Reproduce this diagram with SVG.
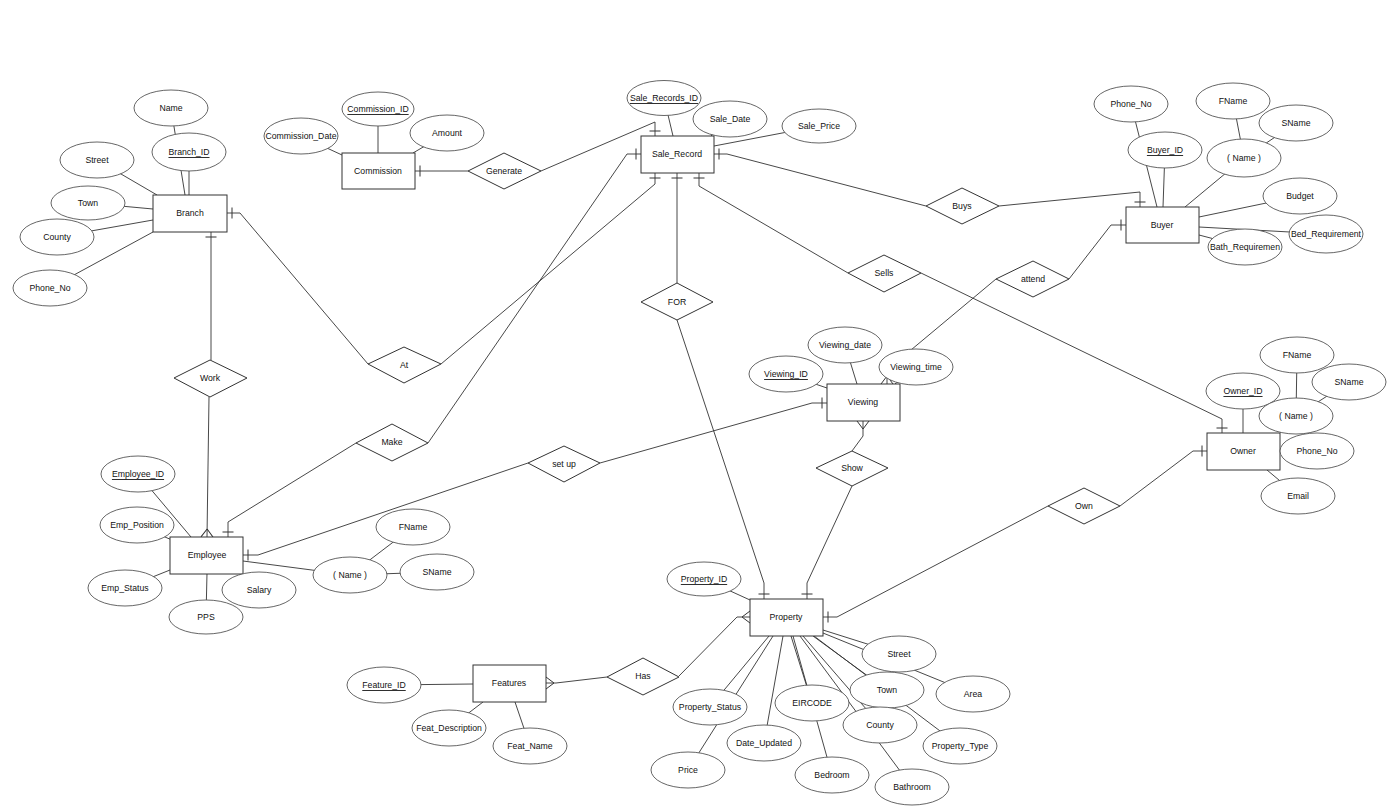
<svg xmlns="http://www.w3.org/2000/svg" width="1393" height="811" viewBox="0 0 1393 811">
<style>
.e{fill:#fff;stroke:#333;stroke-width:1}
.a{fill:#fff;stroke:#555;stroke-width:0.9}
.r{fill:#fff;stroke:#333;stroke-width:1}
.c{fill:none;stroke:#333;stroke-width:0.9}
.l{fill:none;stroke:#333;stroke-width:0.9}
text{font-family:"Liberation Sans",Arial,Helvetica,sans-serif;font-size:8.7px;fill:#111;text-anchor:middle;dominant-baseline:central}
.u{text-decoration:underline}
</style>
<defs>
<marker id="one" markerUnits="userSpaceOnUse" markerWidth="12" markerHeight="14" viewBox="0 -7 12 14" refX="12" refY="0" orient="auto"><path d="M7,-5.5 L7,5.5" stroke="#333" stroke-width="1" fill="none"/></marker>
<marker id="many" markerUnits="userSpaceOnUse" markerWidth="12" markerHeight="14" viewBox="0 -7 12 14" refX="12" refY="0" orient="auto"><path d="M4,0 L12,-6 M4,0 L12,6" stroke="#333" stroke-width="1" fill="none"/></marker>
</defs>
<rect x="0" y="0" width="1393" height="811" fill="#fff"/>
<g id="connectors">
<path class="c" d="M368,364 L240,213 L227,213" marker-end="url(#one)"/>
<path class="c" d="M211,360 L211,232" marker-end="url(#one)"/>
<path class="c" d="M209,397 L207,537" marker-end="url(#many)"/>
<path class="c" d="M441,364 L655,184 L655,173" marker-end="url(#one)"/>
<path class="c" d="M428,443 L627,154 L641,154" marker-end="url(#one)"/>
<path class="c" d="M356,443 L228,522 L228,537" marker-end="url(#one)"/>
<path class="c" d="M528,463 L258,555 L243,555" marker-end="url(#one)"/>
<path class="c" d="M600,463 L812,403 L827,403" marker-end="url(#one)"/>
<path class="c" d="M468,171 L415,171" marker-end="url(#one)"/>
<path class="c" d="M541,171 L655,122 L655,136" marker-end="url(#one)"/>
<path class="c" d="M677,283 L677,173" marker-end="url(#one)"/>
<path class="c" d="M677,320 L764,583 L764,599" marker-end="url(#one)"/>
<path class="c" d="M926,206 L727,154 L714,154" marker-end="url(#one)"/>
<path class="c" d="M999,206 L1140,192 L1140,207" marker-end="url(#one)"/>
<path class="c" d="M848,273 L699,186 L699,173" marker-end="url(#one)"/>
<path class="c" d="M921,273 L1222,419 L1222,433" marker-end="url(#one)"/>
<path class="c" d="M1069,279 L1111,225 L1126,225" marker-end="url(#one)"/>
<path class="c" d="M996,279 L887,370 L887,384" marker-end="url(#many)"/>
<path class="c" d="M852,451 L863,436 L863,421" marker-end="url(#many)"/>
<path class="c" d="M852,486 L807,583 L807,599" marker-end="url(#one)"/>
<path class="c" d="M1120,506 L1193,451 L1207,451" marker-end="url(#one)"/>
<path class="c" d="M1048,506 L837,617 L823,617" marker-end="url(#one)"/>
<path class="c" d="M679,676 L737,617 L750,617" marker-end="url(#many)"/>
<path class="c" d="M607,677 L556,683 L546,683" marker-end="url(#many)"/>
<!-- attribute links -->
<path class="l" d="M171,108 L185,195 M189,152 L189,195 M97,160 L157,195 M88,203 L153,209 M57,237 L153,220 M50,288 L153,232"/>
<path class="l" d="M378,109 L378,153 M301,136 L342,155 M447,133 L413,153"/>
<path class="l" d="M664,98 L673,136 M730,119 L711,136 M819,126 L714,146"/>
<path class="l" d="M1131,104 L1157,207 M1165,150 L1163,207 M1244,158 L1185,207 M1233,101 L1244,158 M1296,123 L1244,158 M1300,196 L1199,217 M1326,234 L1199,227 M1245,247 L1199,235"/>
<path class="l" d="M1243,391 L1243,433 M1296,416 L1280,433 M1297,355 L1296,416 M1349,382 L1296,416 M1317,451 L1280,451 M1298,496 L1267,470"/>
<path class="l" d="M786,374 L827,388 M845,345 L857,384 M916,367 L895,384"/>
<path class="l" d="M138,474 L191,537 M137,525 L172,540 M125,588 L170,570 M206,617 L207,573 M259,590 L238,573 M350,575 L243,561 M413,527 L350,575 M437,572 L350,575"/>
<path class="l" d="M704,579 L750,600 M899,654 L823,630 M973,694 L823,633 M887,690 L813,636 M960,746 L814,636 M880,725 L803,636 M912,787 L800,636 M812,703 L791,636 M832,775 L793,636 M764,743 L783,636 M710,707 L769,636 M688,770 L773,636"/>
<path class="l" d="M384,685 L473,684 M449,728 L483,702 M530,746 L515,702"/>
</g>
<g id="Branch"><rect class="e" x="153" y="195" width="74" height="37"/><text x="190" y="213">Branch</text></g>
<g id="Branch_Name"><ellipse class="a" cx="171" cy="108" rx="37" ry="18"/><text x="171" y="108">Name</text></g>
<g id="Branch_ID"><ellipse class="a" cx="189" cy="152" rx="37" ry="19"/><text class="u" x="189" y="152">Branch_ID</text></g>
<g id="Branch_Street"><ellipse class="a" cx="97" cy="160" rx="37" ry="18"/><text x="97" y="160">Street</text></g>
<g id="Branch_Town"><ellipse class="a" cx="88" cy="203" rx="37" ry="17"/><text x="88" y="203">Town</text></g>
<g id="Branch_County"><ellipse class="a" cx="57" cy="237" rx="37" ry="18"/><text x="57" y="237">County</text></g>
<g id="Branch_Phone"><ellipse class="a" cx="50" cy="288" rx="37" ry="18"/><text x="50" y="288">Phone_No</text></g>

<g id="Commission"><rect class="e" x="342" y="153" width="73" height="36"/><text x="378" y="171">Commission</text></g>
<g id="Commission_ID"><ellipse class="a" cx="378" cy="109" rx="36" ry="17"/><text class="u" x="378" y="109">Commission_ID</text></g>
<g id="Commission_Date"><ellipse class="a" cx="301" cy="136" rx="37" ry="18"/><text x="301" y="136">Commission_Date</text></g>
<g id="Amount"><ellipse class="a" cx="447" cy="133" rx="37" ry="18"/><text x="447" y="133">Amount</text></g>
<g id="Generate"><polygon class="r" points="468,171 504,153 541,171 504,189"/><text x="504" y="171">Generate</text></g>

<g id="Sale_Record"><rect class="e" x="641" y="136" width="73" height="37"/><text x="677" y="154">Sale_Record</text></g>
<g id="Sale_Records_ID"><ellipse class="a" cx="664" cy="98" rx="37" ry="17.5"/><text class="u" x="664" y="98">Sale_Records_ID</text></g>
<g id="Sale_Date"><ellipse class="a" cx="730" cy="119" rx="37" ry="18"/><text x="730" y="119">Sale_Date</text></g>
<g id="Sale_Price"><ellipse class="a" cx="819" cy="126" rx="37" ry="17"/><text x="819" y="126">Sale_Price</text></g>

<g id="Buyer"><rect class="e" x="1126" y="207" width="73" height="36"/><text x="1162" y="225">Buyer</text></g>
<g id="Buyer_Phone"><ellipse class="a" cx="1131" cy="104" rx="37" ry="18"/><text x="1131" y="104">Phone_No</text></g>
<g id="Buyer_ID"><ellipse class="a" cx="1165" cy="150" rx="37" ry="18"/><text class="u" x="1165" y="150">Buyer_ID</text></g>
<g id="Buyer_FName"><ellipse class="a" cx="1233" cy="101" rx="37" ry="18"/><text x="1233" y="101">FName</text></g>
<g id="Buyer_SName"><ellipse class="a" cx="1296" cy="123" rx="37" ry="18"/><text x="1296" y="123">SName</text></g>
<g id="Buyer_Name"><ellipse class="a" cx="1244" cy="158" rx="37" ry="19"/><text x="1244" y="158">( Name )</text></g>
<g id="Budget"><ellipse class="a" cx="1300" cy="196" rx="37" ry="18"/><text x="1300" y="196">Budget</text></g>
<g id="Bed_Requirement"><ellipse class="a" cx="1326" cy="234" rx="37" ry="19"/><text x="1326" y="234">Bed_Requirement</text></g>
<g id="Bath_Requirement"><ellipse class="a" cx="1245" cy="247" rx="37" ry="18"/><text x="1245" y="247">Bath_Requiremen</text></g>
<g id="Buys"><polygon class="r" points="926,206 962,188 999,206 962,224"/><text x="962" y="206">Buys</text></g>

<g id="At"><polygon class="r" points="368,364 404,347 441,364 404,383"/><text x="404" y="365">At</text></g>
<g id="Work"><polygon class="r" points="174,378 210,360 247,378 210,397"/><text x="210" y="378">Work</text></g>
<g id="Make"><polygon class="r" points="356,443 392,424 428,443 392,461"/><text x="392" y="442">Make</text></g>
<g id="Set_up"><polygon class="r" points="528,463 564,446 600,463 564,482"/><text x="564" y="464">set up</text></g>
<g id="FOR"><polygon class="r" points="641,302 677,283 713,302 677,320"/><text x="677" y="302">FOR</text></g>
<g id="Sells"><polygon class="r" points="848,273 884,255 921,273 884,292"/><text x="884" y="273">Sells</text></g>
<g id="attend"><polygon class="r" points="996,279 1033,261 1069,279 1033,297"/><text x="1033" y="279">attend</text></g>
<g id="Show"><polygon class="r" points="816,468 852,451 888,468 852,486"/><text x="852" y="468">Show</text></g>
<g id="Own"><polygon class="r" points="1048,506 1084,488 1120,506 1084,524"/><text x="1084" y="506">Own</text></g>
<g id="Has"><polygon class="r" points="607,677 643,658 679,677 643,695"/><text x="643" y="676">Has</text></g>

<g id="Viewing"><rect class="e" x="827" y="384" width="73" height="37"/><text x="863" y="402">Viewing</text></g>
<g id="Viewing_ID"><ellipse class="a" cx="786" cy="374" rx="37" ry="18"/><text class="u" x="786" y="374">Viewing_ID</text></g>
<g id="Viewing_date"><ellipse class="a" cx="845" cy="345" rx="37" ry="18"/><text x="845" y="345">Viewing_date</text></g>
<g id="Viewing_time"><ellipse class="a" cx="916" cy="367" rx="37" ry="18"/><text x="916" y="367">Viewing_time</text></g>

<g id="Owner"><rect class="e" x="1207" y="433" width="73" height="37"/><text x="1243" y="451">Owner</text></g>
<g id="Owner_FName"><ellipse class="a" cx="1297" cy="355" rx="37" ry="18"/><text x="1297" y="355">FName</text></g>
<g id="Owner_ID"><ellipse class="a" cx="1243" cy="391" rx="37" ry="18"/><text class="u" x="1243" y="391">Owner_ID</text></g>
<g id="Owner_SName"><ellipse class="a" cx="1349" cy="382" rx="37" ry="18"/><text x="1349" y="382">SName</text></g>
<g id="Owner_Name"><ellipse class="a" cx="1296" cy="416" rx="37" ry="18"/><text x="1296" y="416">( Name )</text></g>
<g id="Owner_Phone"><ellipse class="a" cx="1317" cy="451" rx="37" ry="18"/><text x="1317" y="451">Phone_No</text></g>
<g id="Owner_Email"><ellipse class="a" cx="1298" cy="496" rx="37" ry="18"/><text x="1298" y="496">Email</text></g>

<g id="Employee"><rect class="e" x="170" y="537" width="73" height="37"/><text x="207" y="555">Employee</text></g>
<g id="Employee_ID"><ellipse class="a" cx="138" cy="474" rx="37" ry="18"/><text class="u" x="138" y="474">Employee_ID</text></g>
<g id="Emp_Position"><ellipse class="a" cx="137" cy="525" rx="37" ry="18"/><text x="137" y="525">Emp_Position</text></g>
<g id="Emp_Status"><ellipse class="a" cx="125" cy="588" rx="37" ry="18"/><text x="125" y="588">Emp_Status</text></g>
<g id="PPS"><ellipse class="a" cx="206" cy="617" rx="37" ry="17"/><text x="206" y="617">PPS</text></g>
<g id="Salary"><ellipse class="a" cx="259" cy="590" rx="37" ry="18"/><text x="259" y="590">Salary</text></g>
<g id="Emp_Name"><ellipse class="a" cx="350" cy="575" rx="37" ry="18"/><text x="350" y="575">( Name )</text></g>
<g id="Emp_FName"><ellipse class="a" cx="413" cy="527" rx="37" ry="18"/><text x="413" y="527">FName</text></g>
<g id="Emp_SName"><ellipse class="a" cx="437" cy="572" rx="37" ry="18"/><text x="437" y="572">SName</text></g>

<g id="Property"><rect class="e" x="750" y="599" width="73" height="37"/><text x="786" y="617">Property</text></g>
<g id="Property_ID"><ellipse class="a" cx="704" cy="579" rx="37" ry="17"/><text class="u" x="704" y="579">Property_ID</text></g>
<g id="Prop_Street"><ellipse class="a" cx="899" cy="654" rx="37" ry="18"/><text x="899" y="654">Street</text></g>
<g id="Prop_Area"><ellipse class="a" cx="973" cy="694" rx="37" ry="18"/><text x="973" y="694">Area</text></g>
<g id="Prop_Town"><ellipse class="a" cx="887" cy="690" rx="37" ry="18"/><text x="887" y="690">Town</text></g>
<g id="Prop_County"><ellipse class="a" cx="880" cy="725" rx="37" ry="18"/><text x="880" y="725">County</text></g>
<g id="Property_Type"><ellipse class="a" cx="960" cy="746" rx="37" ry="18"/><text x="960" y="746">Property_Type</text></g>
<g id="EIRCODE"><ellipse class="a" cx="812" cy="703" rx="37" ry="18"/><text x="812" y="703">EIRCODE</text></g>
<g id="Property_Status"><ellipse class="a" cx="710" cy="707" rx="37" ry="18"/><text x="710" y="707">Property_Status</text></g>
<g id="Date_Updated"><ellipse class="a" cx="764" cy="743" rx="37" ry="18"/><text x="764" y="743">Date_Updated</text></g>
<g id="Price"><ellipse class="a" cx="688" cy="770" rx="37" ry="18"/><text x="688" y="770">Price</text></g>
<g id="Bedroom"><ellipse class="a" cx="832" cy="775" rx="37" ry="18"/><text x="832" y="775">Bedroom</text></g>
<g id="Bathroom"><ellipse class="a" cx="912" cy="787" rx="37" ry="18"/><text x="912" y="787">Bathroom</text></g>

<g id="Features"><rect class="e" x="473" y="665" width="73" height="37"/><text x="509" y="683">Features</text></g>
<g id="Feature_ID"><ellipse class="a" cx="384" cy="685" rx="37" ry="18"/><text class="u" x="384" y="685">Feature_ID</text></g>
<g id="Feat_Description"><ellipse class="a" cx="449" cy="728" rx="37" ry="18"/><text x="449" y="728">Feat_Description</text></g>
<g id="Feat_Name"><ellipse class="a" cx="530" cy="746" rx="37" ry="18"/><text x="530" y="746">Feat_Name</text></g>
</svg>
